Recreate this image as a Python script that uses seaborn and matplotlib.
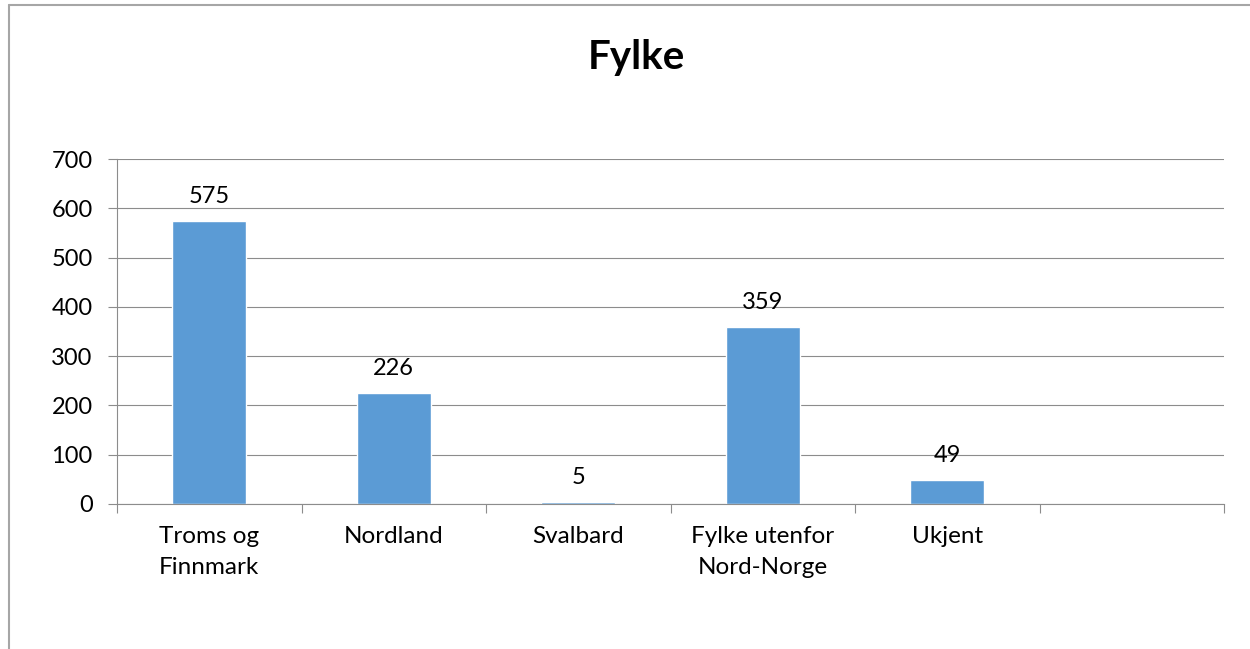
import numpy as np
import matplotlib
matplotlib.use("Agg")
import matplotlib.pyplot as plt
import seaborn as sns

# data
categories = ["Troms og\nFinnmark", "Nordland", "Svalbard", "Fylke utenfor\nNord-Norge", "Ukjent"]
values = [575, 226, 5, 359, 49]
y_ticks = [0, 100, 200, 300, 400, 500, 600, 700]
title = "Fylke"

BAR = "#5B9BD5"
GRID = "#8c8c8c"

sns.set_style("white")
plt.rcParams["font.family"] = ["Lato", "DejaVu Sans"]
plt.rcParams["text.color"] = "black"
plt.rcParams["xtick.color"] = "black"
plt.rcParams["ytick.color"] = "black"

fig = plt.figure(figsize=(12.5, 6.49), dpi=100)
ax = fig.add_axes([117 / 1250, 1 - 504 / 649, (1224 - 117) / 1250, (504 - 159) / 649])

sns.barplot(x=categories, y=values, color=BAR, width=0.4, saturation=1, ax=ax)

# Excel keeps an empty sixth slot on the right
ax.set_xlim(-0.5, 5.5)
ax.set_ylim(0, 700)
ax.set_yticks(y_ticks)
ax.set_yticklabels([str(v) for v in y_ticks])

ax.set_axisbelow(True)
ax.yaxis.grid(True, color=GRID, linewidth=0.8)
ax.xaxis.grid(False)

for s in ["top", "right"]:
    ax.spines[s].set_visible(False)
for s in ["left", "bottom"]:
    ax.spines[s].set_color(GRID)
    ax.spines[s].set_linewidth(0.8)

# category labels at centres, tick marks at slot boundaries
ax.set_xticks(np.arange(len(categories)))
ax.set_xticks(np.arange(-0.5, 6.0, 1.0), minor=True)
ax.tick_params(axis="x", which="major", length=0, pad=16, labelsize=17.5, labelcolor="black")
ax.tick_params(axis="x", which="minor", length=6.5, width=0.8, color=GRID, direction="out", bottom=True)
ax.tick_params(axis="y", which="major", length=6.5, width=0.8, color=GRID, pad=11,
               labelsize=17, left=True, labelcolor="black")
for lab in ax.get_xticklabels():
    lab.set_linespacing(1.6)

ax.set_xlabel("")
ax.set_ylabel("")

ax.bar_label(ax.containers[0], padding=10, fontsize=17, color="black")

fig.text(636 / 1250, 1 - 57 / 649, title, ha="center", va="center",
         fontsize=29, fontweight="bold", color="black")

# outer chart frame (only left and top visible in the crop)
fig.add_artist(plt.Line2D([8.5 / 1250, 8.5 / 1250], [0, 1 - 4.5 / 649],
                          transform=fig.transFigure, color="#a6a6a6", linewidth=1.5))
fig.add_artist(plt.Line2D([8.5 / 1250, 1], [1 - 4.5 / 649, 1 - 4.5 / 649],
                          transform=fig.transFigure, color="#a6a6a6", linewidth=1.5))

fig.savefig("out.png", dpi=100, facecolor="white")
